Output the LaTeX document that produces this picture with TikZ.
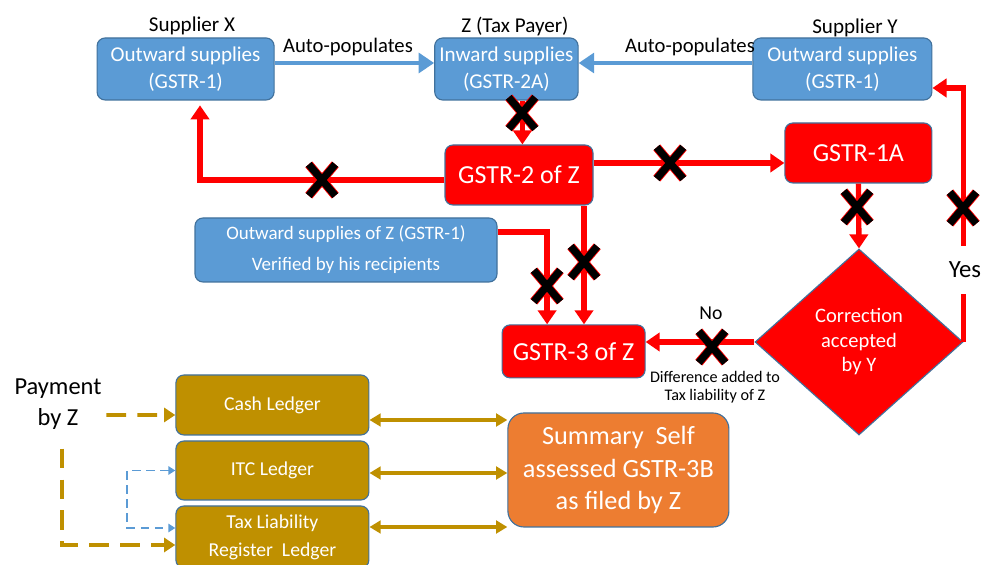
\documentclass[tikz,border=0pt]{standalone}
\usepackage{fontspec}
\setmainfont{Carlito}
\usepackage{xcolor}
\definecolor{gstblue}{HTML}{5B9BD5}
\definecolor{gstedge}{HTML}{41719C}
\definecolor{gstred}{HTML}{FF0000}
\definecolor{gstgold}{HTML}{BF9000}
\definecolor{gstorange}{HTML}{ED7D31}
\usepackage{tikz}
\usetikzlibrary{arrows.meta, positioning, shapes.geometric, shapes.misc, calc}

\begin{document}
\begin{tikzpicture}[
    supply/.style={rectangle, rounded corners=0.2cm, fill=gstblue,
                   draw=gstedge, line width=0.8pt, text=white, align=center,
                   minimum height=1.55cm, font=\fontsize{15}{19}\selectfont},
    retbox/.style={rectangle, rounded corners=0.2cm, fill=gstred,
                   draw=gstedge, line width=0.8pt, text=white, align=center,
                   font=\fontsize{18.5}{22}\selectfont},
    ledger/.style={rectangle, rounded corners=0.2cm, fill=gstgold,
                   draw=gstedge, line width=0.8pt, text=white, align=center,
                   minimum width=4.825cm, font=\fontsize{14}{20}\selectfont},
    decision/.style={diamond, fill=gstred, draw=gstedge, line width=0.8pt,
                   text=white, align=center, inner sep=0pt,
                   minimum width=5.2cm, minimum height=4.65cm,
                   font=\fontsize{14.6}{17.4}\selectfont},
    party/.style={font=\fontsize{15}{18}\selectfont, text=black},
    xmark/.style={cross out, draw=black, line width=5.2pt, inner sep=0pt,
                  minimum width=0.48cm, minimum height=0.6cm,
                  preaction={draw=gstred, line width=6.4pt}},
    autoarrow/.style={-{Triangle[length=11pt,width=14pt]}, gstblue, line width=3.2pt},
    redarrow/.style={-{Triangle[length=10pt,width=13pt]}, gstred, line width=3.8pt},
    goldboth/.style={{Triangle[length=8pt,width=9pt]}-{Triangle[length=8pt,width=9pt]},
                     gstgold, line width=2.4pt},
    golddash/.style={-{Triangle[length=8pt,width=10pt]}, gstgold, line width=2.8pt,
                     dash pattern=on 14pt off 8pt},
    bluedash/.style={{Triangle[length=5pt,width=6pt]}-{Triangle[length=5pt,width=6pt]},
                     gstblue, line width=1.4pt, dash pattern=on 6pt off 4pt}
  ]
    \useasboundingbox (0,0) rectangle (24.575,14.125);
    % Suppliers and tax payer (top row)
    \node[supply, minimum width=4.425cm] (supX) at (4.64, 12.4)
      {Outward supplies\\(GSTR-1)};
    \node[supply, minimum width=3.075cm] (taxZ) at (12.66, 12.4)
      {Inward supplies\\(GSTR-2A)};
    \node[supply, minimum width=4.475cm] (supY) at (21.06, 12.4)
      {Outward supplies\\(GSTR-1)};
    \node[party] (nameX) at (4.8, 13.475) {Supplier X};
    \node[party] (nameZ) at (12.875, 13.475) {Z (Tax Payer)};
    \node[party] (nameY) at (21.375, 13.425) {Supplier Y};
    % Returns
    \node[retbox, minimum width=3.7cm, minimum height=1.5cm] (gstrTwo)
      at (12.975, 9.75) {GSTR-2 of Z};
    \node[retbox, minimum width=3.675cm, minimum height=1.5cm] (gstrOneA)
      at (21.46, 10.3) {GSTR-1A};
    \node[retbox, minimum width=3.575cm, minimum height=1.325cm] (gstrThree)
      at (14.34, 5.34) {GSTR-3 of Z};
    \node[decision] (accept) at (21.475, 5.575)
      {Correction\\accepted\\by Y};
    \node[supply, minimum width=7.55cm, minimum height=1.6cm,
          font=\fontsize{13.5}{22}\selectfont] (outZ) at (8.65, 7.875)
      {Outward supplies of Z (GSTR-1)\\Verified by his recipients};
    % Ledgers and summary
    \node[ledger, minimum height=1.5cm] (cash) at (6.81, 4.0) {Cash Ledger};
    \node[ledger, minimum height=1.475cm] (itc) at (6.81, 2.3625) {ITC Ledger};
    \node[ledger, minimum height=1.55cm] (taxLiab) at (6.81, 0.7)
      {Tax Liability\\Register\ \ Ledger};
    \node[rectangle, rounded corners=0.4cm, fill=gstorange, draw=gstedge,
          line width=0.8pt, text=white, align=center, minimum width=5.525cm,
          minimum height=2.85cm, font=\fontsize{18.7}{23}\selectfont] (summary)
      at (15.46, 2.375) {Summary\ \ Self\\assessed GSTR-3B\\as filed by Z};
    \node[align=center, font=\fontsize{17.4}{22.5}\selectfont] (payment)
      at (1.45, 4.025) {Payment\\by Z};
    % Auto-population
    \draw[autoarrow] ([yshift=0.15cm]supX.east) -- ([yshift=0.15cm]taxZ.west);
    \draw[autoarrow] ([yshift=0.15cm]supY.west) -- ([yshift=0.15cm]taxZ.east);
    \node[party, font=\fontsize{14.7}{17}\selectfont] (autoX) at (8.7, 12.95)
      {Auto-populates};
    \node[party, font=\fontsize{14.7}{17}\selectfont] (autoY) at (17.25, 12.95)
      {Auto-populates};
    % Red flows
    \draw[redarrow] ([xshift=0.4cm]taxZ.south)
      -- ([xshift=0.4cm]taxZ.south |- gstrTwo.north);
    \draw[redarrow] ([yshift=-0.125cm]gstrTwo.west)
      -| ([xshift=0.36cm, yshift=-0.12cm]supX.south);
    \draw[redarrow] ([yshift=0.3cm]gstrTwo.east)
      -- ([yshift=0.3cm]gstrTwo.east -| gstrOneA.west);
    \draw[redarrow] (gstrOneA.south) -- (accept.north);
    \draw[redarrow] (accept.east) |- ([yshift=-0.475cm]supY.east);
    \node[fill=white, inner sep=2pt, minimum height=1.2cm,
          font=\fontsize{17.6}{20}\selectfont] (yes) at (24.125, 7.375) {Yes};
    \draw[redarrow] (accept.west) -- (accept.west -| gstrThree.east);
    \node[party, font=\fontsize{14}{17}\selectfont] (no) at (17.775, 6.3) {No};
    \node[align=center, font=\fontsize{11.5}{12.8}\selectfont] (diff)
      at (17.875, 4.45) {Difference added to\\Tax liability of Z};
    \draw[redarrow] ([yshift=0.45cm]outZ.east)
      -| ([xshift=-0.6625cm]gstrThree.north);
    \draw[redarrow] ([xshift=1.625cm]gstrTwo.south)
      -- ([xshift=1.625cm]gstrTwo.south |- gstrThree.north);
    % Blocked flows
    \node[xmark] (xA) at (13.05, 11.3) {};
    \node[xmark] (xB) at (8.05, 9.625) {};
    \node[xmark] (xC) at (16.75, 10.05) {};
    \node[xmark] (xD) at (21.425, 8.95) {};
    \node[xmark] (xE) at (24.075, 8.925) {};
    \node[xmark] (xF) at (17.8, 5.45) {};
    \node[xmark] (xG) at (13.675, 6.975) {};
    \node[xmark] (xH) at (14.6, 7.575) {};
    % Ledgers to summary
    \draw[goldboth] ([yshift=-0.375cm]cash.east)
      -- ([yshift=-0.375cm]cash.east -| summary.west);
    \draw[goldboth] ([yshift=-0.0625cm]itc.east)
      -- ([yshift=-0.0625cm]itc.east -| summary.west);
    \draw[goldboth] ([yshift=0.25cm]taxLiab.east)
      -- ([yshift=0.25cm]taxLiab.east -| summary.west);
    % Payment
    \draw[golddash] ([yshift=-0.275cm]payment.east) -- ([yshift=-0.25cm]cash.west);
    \draw[golddash] ([xshift=0.1cm, yshift=-0.35cm]payment.south)
      |- ([yshift=-0.2cm]taxLiab.west);
    \draw[bluedash] (itc.west) -- ++(-1.2,0) |- ([yshift=0.225cm]taxLiab.west);
  \end{tikzpicture}
\end{document}
